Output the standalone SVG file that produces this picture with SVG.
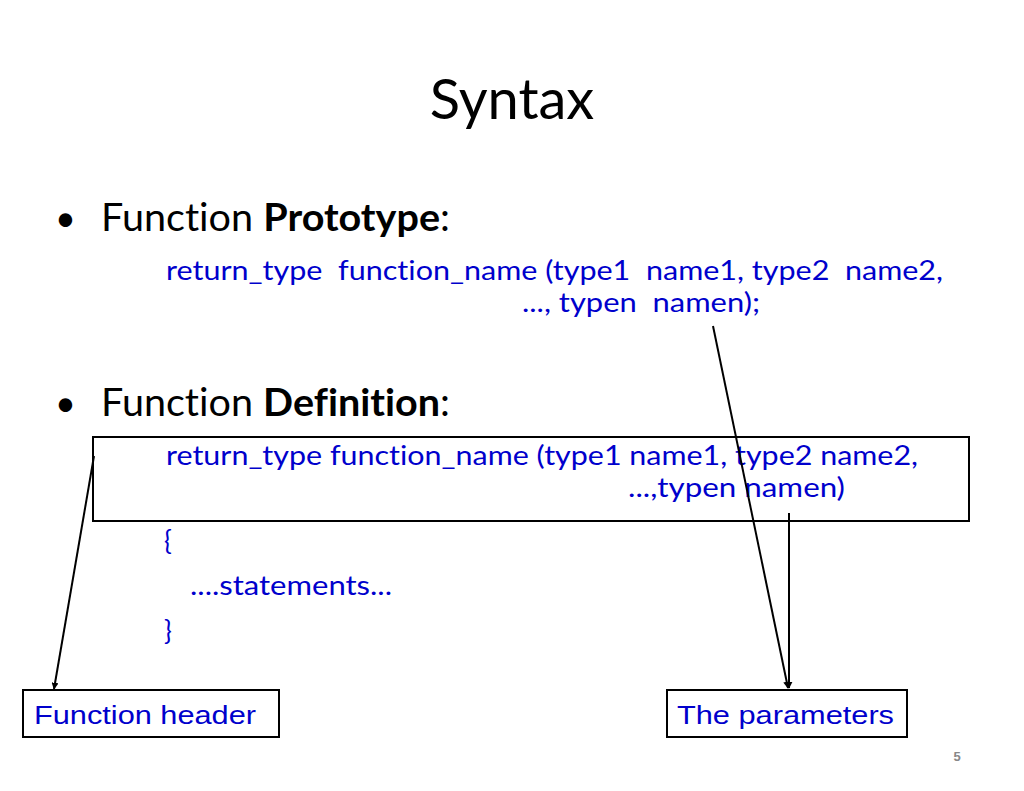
<svg xmlns="http://www.w3.org/2000/svg" width="1024" height="791" viewBox="0 0 1024 791">
<defs>
<style>
text{white-space:pre;font-variant-ligatures:none}
.t{font-family:Lato,"Open Sans",sans-serif;fill:#000}
.c{font-family:Lato,"Open Sans",sans-serif;fill:#0000CC;font-size:26px}
.a{font-family:"Liberation Sans",Arial,sans-serif;fill:#0000CC;font-size:26px}
.box{fill:#fff;stroke:#000;stroke-width:2}
.ln{stroke:#000;stroke-width:2;fill:none}
</style>
<marker id="ah" viewBox="0 0 10 10" refX="9" refY="5" markerWidth="7" markerHeight="7" orient="auto-start-reverse" markerUnits="userSpaceOnUse">
<path d="M0,0 L10,5 L0,10 z" fill="#000"/>
</marker>
</defs>
<rect width="1024" height="791" fill="#fff"/>
<text class="t" x="512" y="119" font-size="56" text-anchor="middle">Syntax</text>
<text class="t" x="55" y="231" font-size="36">•</text>
<text class="t" x="101" y="231" font-size="38" textLength="349" lengthAdjust="spacingAndGlyphs">Function <tspan font-weight="bold">Prototype</tspan>:</text>
<text class="c" x="166" y="280" textLength="777" lengthAdjust="spacingAndGlyphs" xml:space="preserve">return_type  function_name (type1  name1, type2  name2,</text>
<text class="c" x="522" y="312" textLength="238" lengthAdjust="spacingAndGlyphs" xml:space="preserve">..., typen  namen);</text>
<text class="t" x="55" y="416" font-size="36">•</text>
<text class="t" x="101" y="416" font-size="38" textLength="349" lengthAdjust="spacingAndGlyphs">Function <tspan font-weight="bold">Definition</tspan>:</text>
<g id="header-box">
<rect x="93" y="437" width="876" height="84" fill="none" stroke="#000" stroke-width="2"/>
<text class="c" x="166" y="465" textLength="752" lengthAdjust="spacingAndGlyphs">return_type function_name (type1 name1, type2 name2,</text>
<text class="c" x="628" y="497" textLength="217" lengthAdjust="spacingAndGlyphs">...,typen namen)</text>
</g>
<text class="c" x="164" y="550">{</text>
<text class="c" x="190" y="595" textLength="202" lengthAdjust="spacingAndGlyphs">....statements...</text>
<text class="c" x="164" y="640">}</text>
<g id="function-header">
<rect class="box" x="23" y="690" width="256" height="47"/>
<text class="a" x="34" y="724" textLength="222" lengthAdjust="spacingAndGlyphs">Function header</text>
</g>
<g id="the-parameters">
<rect class="box" x="667" y="690" width="240" height="47"/>
<text class="a" x="677" y="724" textLength="217" lengthAdjust="spacingAndGlyphs">The parameters</text>
</g>
<g id="connectors">
<line class="ln" x1="94" y1="456" x2="54" y2="689" marker-end="url(#ah)"/>
<line class="ln" x1="713" y1="326" x2="788" y2="688" marker-end="url(#ah)"/>
<line class="ln" x1="789" y1="513" x2="789" y2="688" marker-end="url(#ah)"/>
</g>
<text x="957" y="761" font-family="Liberation Sans,Arial,sans-serif" font-size="13" font-weight="bold" fill="#888" text-anchor="middle">5</text>
</svg>
